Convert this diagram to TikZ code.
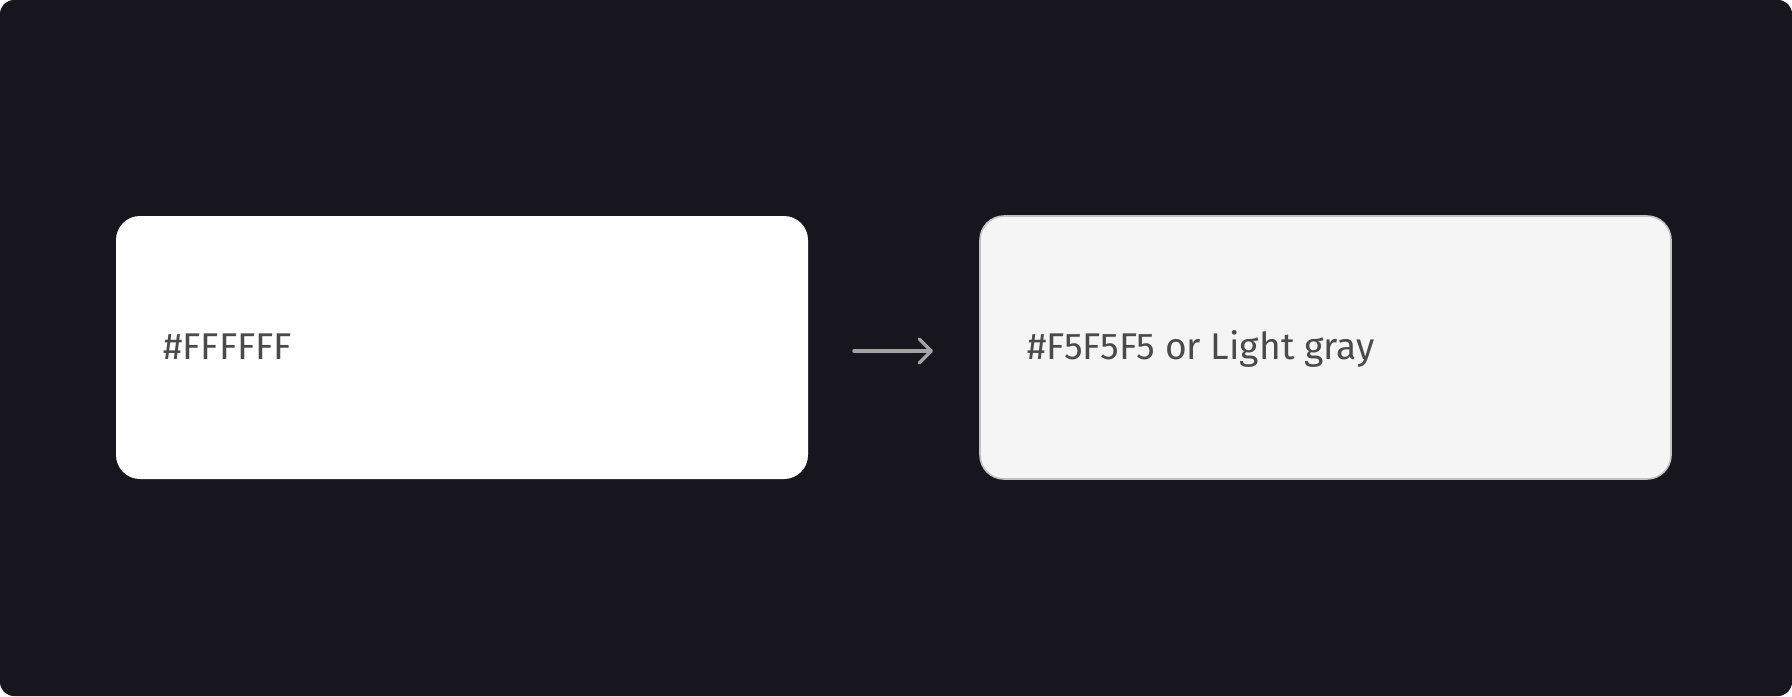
\documentclass[tikz,border=0pt]{standalone}
\usepackage{fontspec}
\setmainfont{Fira Sans}
\usetikzlibrary{arrows.meta}
\definecolor{canvas}{HTML}{17161F}
\definecolor{inktext}{HTML}{4A4A4A}
\definecolor{graybox}{HTML}{F5F5F5}
\definecolor{grayedge}{HTML}{C2C2C2}
\definecolor{arrowgray}{HTML}{A3A3A3}
\begin{document}
\begin{tikzpicture}[x=0.5pt,y=-0.5pt,
  swatch/.style={rounded corners=12pt},
  label/.style={anchor=base west,inner sep=0pt,text=inktext,font=\fontsize{18.6}{20}\selectfont}]
  % page and dark canvas
  \fill[white] (0,0) rectangle (1792,696);
  \useasboundingbox (0,0) rectangle (1792,696);
  \fill[canvas,rounded corners=7pt] (0,0) rectangle (1792,696);
  % white swatch
  \fill[white,swatch] (116,216) rectangle (808,479);
  \node[label] (white) at (163,359) {\#FFFFFF};
  % light gray swatch
  \draw[grayedge,fill=graybox,line width=0.8pt,swatch] (980,216) rectangle (1671,479);
  \node[label] (gray) at (1027,359) {\#F5F5F5 or Light gray};
  % arrow between the swatches
  \coordinate (a0) at (854,351);
  \coordinate (a1) at (933,351);
  \draw[arrowgray,line width=1.7pt,line cap=round,
        -{Straight Barb[length=6pt,width=12pt,line cap=round,line join=round]}] (a0) -- (a1);
\end{tikzpicture}
\end{document}
